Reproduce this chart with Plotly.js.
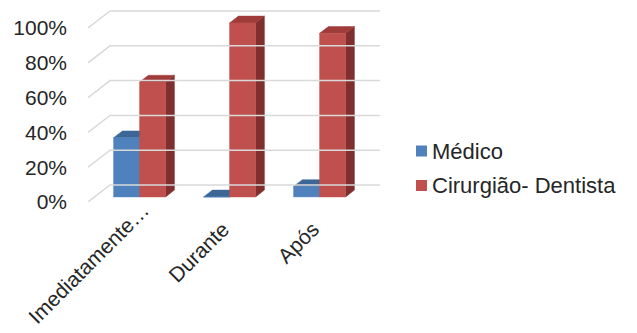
<!DOCTYPE html>
<html>
<head>
<meta charset="utf-8">
<script src="https://cdn.plot.ly/plotly-3.0.1.min.js"></script>
<style>
  html, body { margin: 0; padding: 0; background: #ffffff; }
  #chart { width: 637px; height: 333px; }
</style>
</head>
<body>
<div id="chart"></div>
<script>
// Categories and series (percent of respondents)
const categories = ["Imediatamente…", "Durante", "Após"];
const medico = [34, 0, 6];
const dentista = [66, 100, 94];
const seriesNames = ["Médico", "Cirurgião- Dentista"];
const yTicks = [0, 20, 40, 60, 80, 100];
const yTickText = ["0%", "20%", "40%", "60%", "80%", "100%"];

// Plot frame in pixels
const W = 637, H = 333;
const L = 88, R = 380, T = 5, B = 202;
const PX_PER_CAT = 90;       // category slot width
const PX_PER_PCT = 1.74;     // vertical scale
const xMin = -0.5;
const xMax = xMin + (R - L) / PX_PER_CAT;
const yMin = 0;
const yMax = (B - T) / PX_PER_PCT;

// Oblique depth (front -> back wall) in data units
const DX = 22 / PX_PER_CAT;
const DY = 17 / PX_PER_PCT;
const BAR_W = 26 / PX_PER_CAT;
const D_FRONT = 0.3, D_BACK = 0.7;

const FONT = "Liberation Sans, Arial, sans-serif";
const TEXT_COLOR = "#262626";

const colors = {
  blue:  { front: "#4f81bd", top: "#3c6696", side: "#2f5482" },
  red:   { front: "#c0504d", top: "#9f3c3a", side: "#7f2f2e" }
};

function proj(u, v, d) { return [u + DX * d, v + DY * d]; }

function poly(points, color) {
  const xs = [], ys = [];
  points.forEach(p => { const q = proj(p[0], p[1], p[2]); xs.push(q[0]); ys.push(q[1]); });
  xs.push(xs[0]); ys.push(ys[0]);
  return {
    type: "scatter", mode: "lines", x: xs, y: ys,
    fill: "toself", fillcolor: color,
    line: { color: color, width: 0.5 },
    hoverinfo: "skip", showlegend: false
  };
}

function barFaces(xl, xr, v, pal) {
  const a = D_FRONT, b = D_BACK;
  return [
    poly([[xr, 0, a], [xr, v, a], [xr, v, b], [xr, 0, b]], pal.side),
    poly([[xl, v, a], [xl, v, b], [xr, v, b], [xr, v, a]], pal.top),
    poly([[xl, 0, a], [xl, v, a], [xr, v, a], [xr, 0, a]], pal.front)
  ];
}

const traces = [];

// Gridlines: left-wall diagonal plus back-wall horizontal
const gx = [], gy = [];
yTicks.forEach(v => {
  gx.push(xMin, xMin + DX, xMax, null);
  gy.push(v, v + DY, v + DY, null);
});
traces.push({
  type: "scatter", mode: "lines", x: gx, y: gy, xaxis: "x2",
  line: { color: "#d9d9d9", width: 1.5 },
  hoverinfo: "skip", showlegend: false, cliponaxis: false
});

// Bars
categories.forEach((c, i) => {
  barFaces(i - BAR_W, i, medico[i], colors.blue).forEach(t => traces.push(t));
  barFaces(i, i + BAR_W, dentista[i], colors.red).forEach(t => traces.push(t));
});

// Legend built as swatches + labels
const px2x = px => (px - L) / (R - L);
const px2y = py => (B - py) / (B - T);
const legendItems = [
  { name: seriesNames[0], color: colors.blue.front, cy: 151 },
  { name: seriesNames[1], color: colors.red.front, cy: 185.5 }
];
const shapes = legendItems.map(it => ({
  type: "rect", xref: "paper", yref: "paper",
  x0: px2x(416), x1: px2x(427), y0: px2y(it.cy + 5.5), y1: px2y(it.cy - 5.5),
  fillcolor: it.color, line: { width: 0 }
}));
const annotations = legendItems.map(it => ({
  xref: "paper", yref: "paper", x: px2x(430), y: px2y(it.cy),
  xanchor: "left", yanchor: "middle", showarrow: false,
  text: it.name, font: { family: FONT, size: 22, color: TEXT_COLOR }
}));

// The long first label sits a little higher and further right than the others
const FIRST_LABEL_SHIFT = 10 / PX_PER_CAT;

const layout = {
  width: W, height: H,
  margin: { l: L, r: W - R, t: T, b: H - B, pad: 0 },
  paper_bgcolor: "#ffffff", plot_bgcolor: "rgba(0,0,0,0)",
  font: { family: FONT, size: 21, color: TEXT_COLOR },
  showlegend: false,
  xaxis: {
    range: [xMin, xMax], showgrid: false, zeroline: false, showline: false,
    tickvals: [1, 2], ticktext: categories.slice(1), tickangle: -45,
    ticks: "", ticklabelstandoff: 10, fixedrange: true
  },
  xaxis2: {
    overlaying: "x", side: "bottom",
    range: [xMin, xMax], showgrid: false, zeroline: false, showline: false,
    tickvals: [0 + FIRST_LABEL_SHIFT], ticktext: categories.slice(0, 1), tickangle: -45,
    ticks: "", ticklabelstandoff: -9, fixedrange: true
  },
  yaxis: {
    range: [yMin, yMax], showgrid: false, zeroline: false, showline: false,
    tickvals: yTicks, ticktext: yTickText,
    ticks: "", ticklabelstandoff: 20, fixedrange: true
  },
  shapes: shapes,
  annotations: annotations
};

Plotly.newPlot("chart", traces, layout, { staticPlot: true, displayModeBar: false });
</script>
</body>
</html>
